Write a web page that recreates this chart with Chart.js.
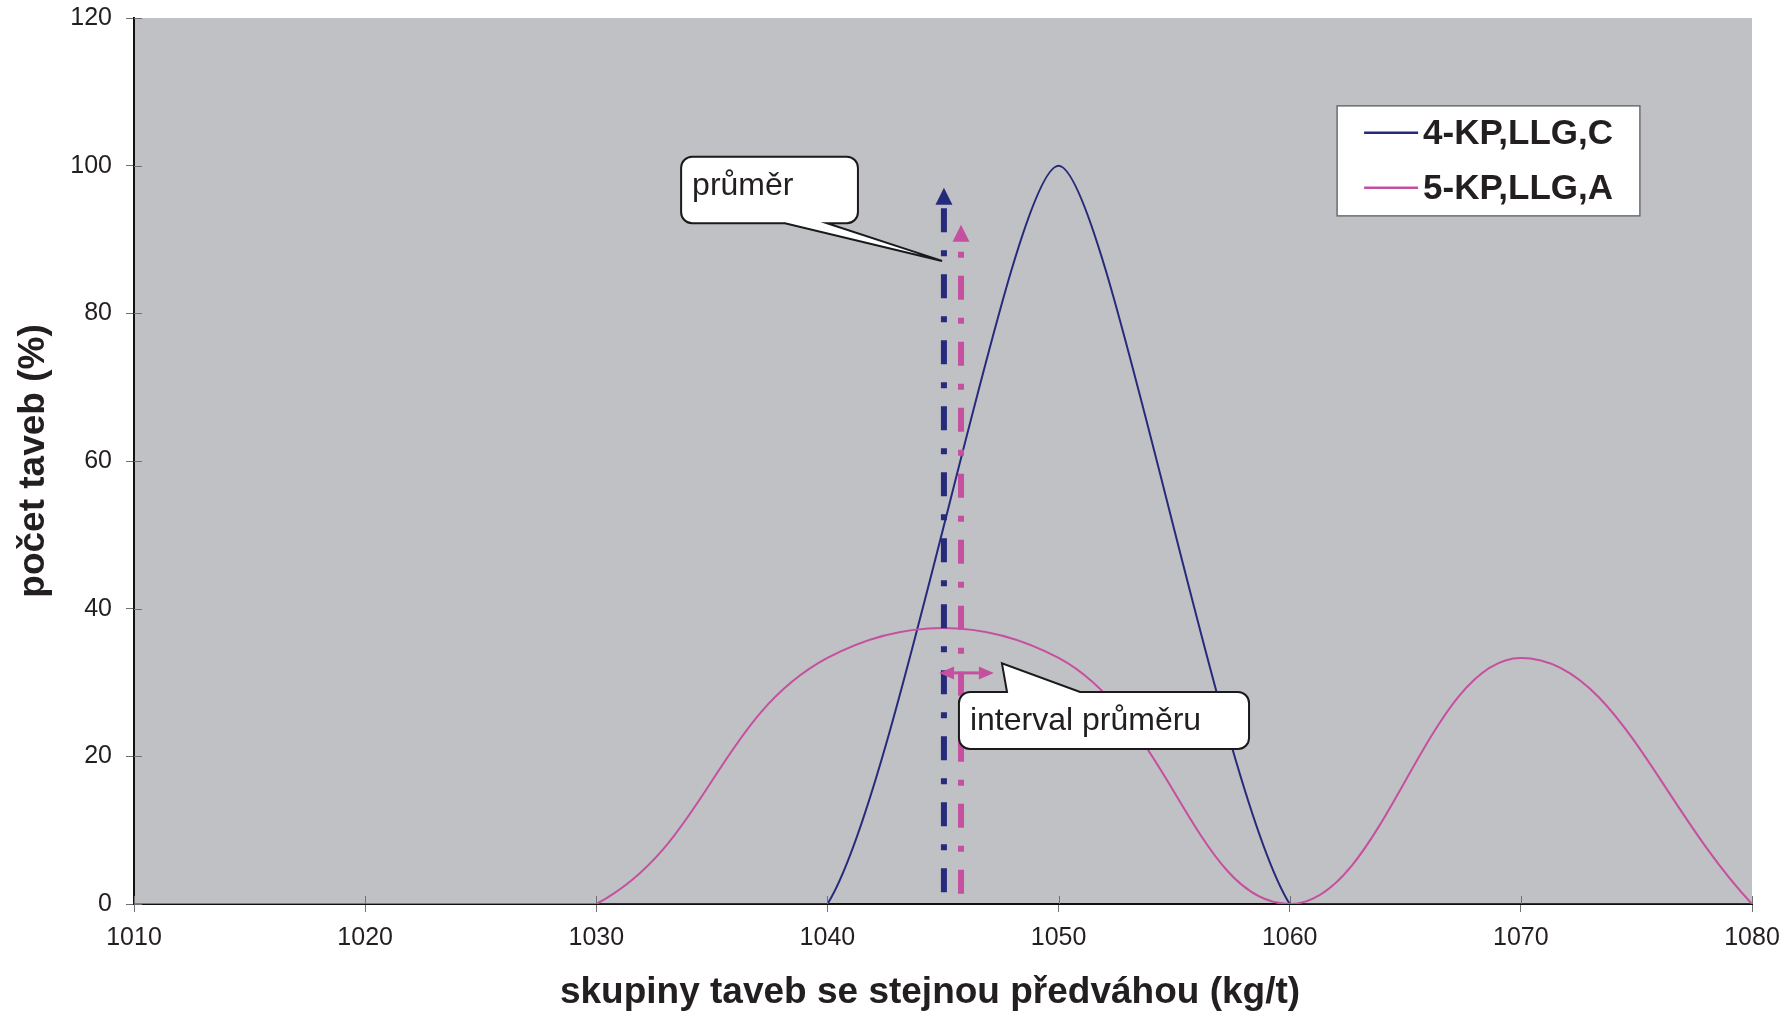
<!DOCTYPE html>
<html>
<head>
<meta charset="utf-8">
<script src="https://cdn.jsdelivr.net/npm/chart.js@4/dist/chart.umd.min.js"></script>
<style>
html,body{margin:0;padding:0;background:#ffffff;}
canvas{display:block;}
</style>
</head>
<body>
<canvas id="c" width="1792" height="1016" style="width:1792px;height:1016px"></canvas>
<script>
// ---- data ----
const xValues = [1010, 1020, 1030, 1040, 1050, 1060, 1070, 1080];
const series4 = [0, 0, 0, 0, 100, 0, 0, 0];            // 4-KP,LLG,C
const series5 = [0, 0, 0, 33.33, 33.33, 0, 33.33, 0];  // 5-KP,LLG,A
const seriesLabels = ['4-KP,LLG,C', '5-KP,LLG,A'];
const meanValues = [1045.04, 1045.78];   // průměr of each series
const meanTops = [97, 92];
const meanBottoms = [1.6, 1.4];
const intervalRange = [1044.83, 1047.2]; // interval průměru
const intervalLevel = 31.3;
const yTicksRange = [0, 120, 20];
const xTicksRange = [1010, 1080, 10];
const calloutTexts = ['průměr', 'interval průměru'];
const axisTitles = ['skupiny taveb se stejnou předváhou (kg/t)', 'počet taveb (%)'];
// callout anchors in data units: [xLeft, xRight, yTop, yBottom, baseA, baseB, tipX, tipY]
const calloutMean = [1033.67, 1041.32, 101.2, 92.2, 1038.16, 1039.98, 1044.96, 87.1];
const calloutInterval = [1045.69, 1058.24, 28.71, 21.0, 1047.77, 1050.93, 1047.55, 32.6];
// legend box in data units: [xLeft, xRight, yTop, yBottom]
const legendBox = [1062.05, 1075.15, 108.1, 93.2];

const NAVY = '#262a7a';
const MAG = '#c4509f';
const FONT = '"Liberation Sans", Arial, Helvetica, sans-serif';
const TXT = '#231f20';

const bgPlugin = {
  id: 'bg',
  beforeDraw(chart) {
    const {ctx, chartArea: a} = chart;
    ctx.save();
    ctx.fillStyle = '#c0c1c5';
    ctx.fillRect(a.left, a.top, a.right - a.left, a.bottom - a.top);
    ctx.restore();
  },
  afterDraw(chart) {
    const {ctx, chartArea: a, scales: {x, y}} = chart;
    ctx.save();
    // inner halves of tick marks
    ctx.strokeStyle = '#707070';
    ctx.lineWidth = 1;
    ctx.beginPath();
    y.ticks.forEach(t => {
      const py = Math.round(y.getPixelForValue(t.value)) + 0.5;
      ctx.moveTo(a.left, py); ctx.lineTo(a.left + 8, py);
    });
    x.ticks.forEach(t => {
      const px = Math.round(x.getPixelForValue(t.value)) + 0.5;
      ctx.moveTo(px, a.bottom); ctx.lineTo(px, a.bottom - 8);
    });
    ctx.stroke();

    // mean lines with arrows
    const colors = [NAVY, MAG];
    meanValues.forEach((m, i) => {
      const px = x.getPixelForValue(m);
      const top = y.getPixelForValue(meanTops[i]);
      const bot = y.getPixelForValue(meanBottoms[i]);
      const head = 17;
      ctx.strokeStyle = colors[i];
      ctx.fillStyle = colors[i];
      ctx.lineWidth = 6;
      ctx.setLineDash([24, 18, 6, 18]);
      ctx.beginPath();
      ctx.moveTo(px, bot);
      ctx.lineTo(px, top + head);
      ctx.stroke();
      ctx.setLineDash([]);
      ctx.beginPath();
      ctx.moveTo(px, top);
      ctx.lineTo(px - 8.5, top + head);
      ctx.lineTo(px + 8.5, top + head);
      ctx.closePath();
      ctx.fill();
    });

    // interval double arrow
    const ix1 = x.getPixelForValue(intervalRange[0]);
    const ix2 = x.getPixelForValue(intervalRange[1]);
    const iy = y.getPixelForValue(intervalLevel);
    const hl = 15, hw = 6.5;
    ctx.strokeStyle = MAG; ctx.fillStyle = MAG; ctx.lineWidth = 3;
    ctx.beginPath(); ctx.moveTo(ix1 + hl, iy); ctx.lineTo(ix2 - hl, iy); ctx.stroke();
    ctx.beginPath(); ctx.moveTo(ix1, iy); ctx.lineTo(ix1 + hl, iy - hw); ctx.lineTo(ix1 + hl, iy + hw); ctx.closePath(); ctx.fill();
    ctx.beginPath(); ctx.moveTo(ix2, iy); ctx.lineTo(ix2 - hl, iy - hw); ctx.lineTo(ix2 - hl, iy + hw); ctx.closePath(); ctx.fill();

    // callouts
    drawCallout(ctx, x, y, calloutMean, 'bottom', calloutTexts[0], 'top');
    drawCallout(ctx, x, y, calloutInterval, 'top', calloutTexts[1], 'middle');

    // legend
    const lx1 = x.getPixelForValue(legendBox[0]), lx2 = x.getPixelForValue(legendBox[1]);
    const ly1 = y.getPixelForValue(legendBox[2]), ly2 = y.getPixelForValue(legendBox[3]);
    ctx.fillStyle = '#ffffff';
    ctx.fillRect(lx1, ly1, lx2 - lx1, ly2 - ly1);
    ctx.strokeStyle = '#6d6d6d'; ctx.lineWidth = 1.5;
    ctx.strokeRect(lx1, ly1, lx2 - lx1, ly2 - ly1);
    const rowY = [ly1 + 27, ly1 + 82];
    ctx.font = 'bold 35px ' + FONT;
    ctx.textBaseline = 'middle';
    ctx.textAlign = 'left';
    seriesLabels.forEach((lab, i) => {
      ctx.strokeStyle = colors[i]; ctx.lineWidth = 2.5;
      ctx.beginPath(); ctx.moveTo(lx1 + 27, rowY[i]); ctx.lineTo(lx1 + 81, rowY[i]); ctx.stroke();
      ctx.fillStyle = TXT;
      ctx.fillText(lab, lx1 + 86, rowY[i] + 1);
    });

    // x axis title
    ctx.fillStyle = TXT;
    ctx.font = 'bold 37px ' + FONT;
    ctx.textAlign = 'center';
    ctx.textBaseline = 'middle';
    ctx.fillText(axisTitles[0], (a.left + a.right) / 2 - 13, 993);
    ctx.restore();
  }
};

function drawCallout(ctx, x, y, c, side, text, vpos) {
  const x1 = x.getPixelForValue(c[0]), x2 = x.getPixelForValue(c[1]);
  const y1 = y.getPixelForValue(c[2]), y2 = y.getPixelForValue(c[3]);
  const bA = x.getPixelForValue(c[4]), bB = x.getPixelForValue(c[5]);
  const tx = x.getPixelForValue(c[6]), ty = y.getPixelForValue(c[7]);
  const r = 11;
  ctx.beginPath();
  ctx.moveTo(x1 + r, y1);
  if (side === 'top') { ctx.lineTo(bA, y1); ctx.lineTo(tx, ty); ctx.lineTo(bB, y1); }
  ctx.lineTo(x2 - r, y1);
  ctx.arcTo(x2, y1, x2, y1 + r, r);
  ctx.lineTo(x2, y2 - r);
  ctx.arcTo(x2, y2, x2 - r, y2, r);
  if (side === 'bottom') { ctx.lineTo(bB, y2); ctx.lineTo(tx, ty); ctx.lineTo(bA, y2); }
  ctx.lineTo(x1 + r, y2);
  ctx.arcTo(x1, y2, x1, y2 - r, r);
  ctx.lineTo(x1, y1 + r);
  ctx.arcTo(x1, y1, x1 + r, y1, r);
  ctx.closePath();
  ctx.fillStyle = '#ffffff';
  ctx.fill();
  ctx.strokeStyle = '#1a1a1a';
  ctx.lineWidth = 2;
  ctx.lineJoin = 'miter';
  ctx.stroke();
  ctx.fillStyle = TXT;
  ctx.font = '32px ' + FONT;
  ctx.textAlign = 'left';
  ctx.textBaseline = 'middle';
  const textY = vpos === 'top' ? y1 + 29 : (y1 + y2) / 2 + 1;
  ctx.fillText(text, x1 + 11, textY);
}

const toPoints = arr => xValues.map((xv, i) => ({x: xv, y: arr[i]}));

new Chart(document.getElementById('c'), {
  type: 'line',
  data: {
    datasets: [
      {label: seriesLabels[0], data: toPoints(series4), borderColor: NAVY, borderWidth: 2,
       pointRadius: 0, tension: 0.2, fill: false, order: 1},
      {label: seriesLabels[1], data: toPoints(series5), borderColor: MAG, borderWidth: 2,
       pointRadius: 0, tension: 0.4, fill: false, order: 0}
    ]
  },
  options: {
    responsive: false,
    animation: false,
    devicePixelRatio: 1,
    layout: {padding: {top: 18, right: 40, left: 0, bottom: 0}},
    plugins: {legend: {display: false}, tooltip: {enabled: false}},
    scales: {
      x: {
        type: 'linear',
        min: xTicksRange[0], max: xTicksRange[1],
        ticks: {stepSize: xTicksRange[2], color: TXT, font: {family: FONT, size: 25}, padding: 11, maxRotation: 0,
                callback: v => String(v)},
        grid: {drawOnChartArea: false, tickLength: 8, color: '#707070', lineWidth: 1},
        border: {color: '#111111', width: 2},
        title: {display: false},
        afterFit(s) { s.height = 112; s.paddingLeft = 0; s.paddingRight = 0; }
      },
      y: {
        min: yTicksRange[0], max: yTicksRange[1],
        ticks: {stepSize: yTicksRange[2], color: TXT, font: {family: FONT, size: 25}, padding: 14,
                callback: v => String(v)},
        grid: {drawOnChartArea: false, tickLength: 8, color: '#707070', lineWidth: 1},
        border: {color: '#111111', width: 2},
        title: {display: true, text: axisTitles[1], color: TXT,
                font: {family: FONT, size: 37, weight: 'bold'}, padding: {top: 12, bottom: 0}},
        afterFit(s) { s.width = 134; s.paddingTop = 0; s.paddingBottom = 0; }
      }
    }
  },
  plugins: [bgPlugin]
});
</script>
</body>
</html>
